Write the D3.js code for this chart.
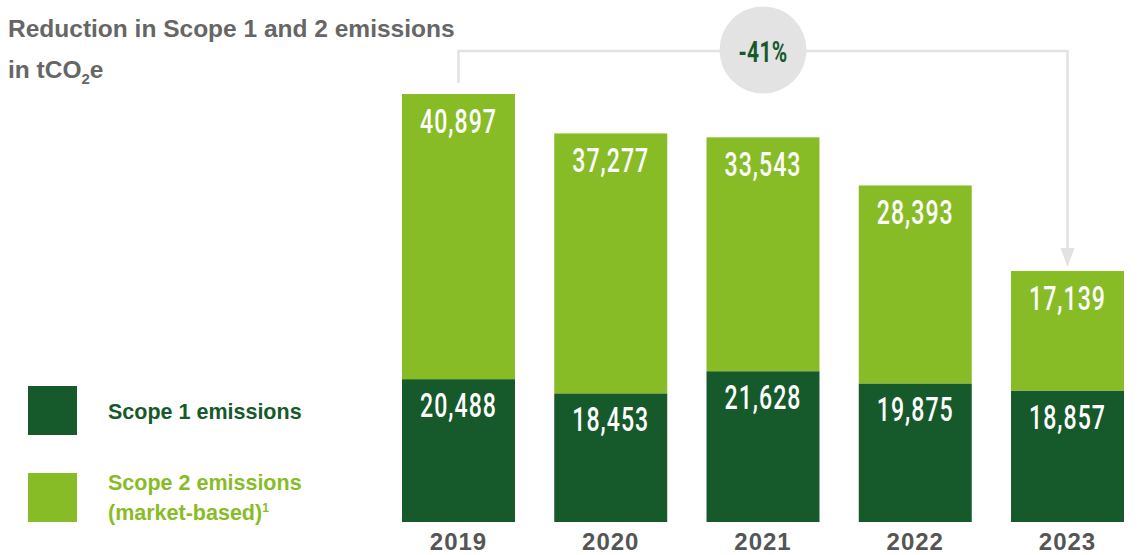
<html>
<head>
<script src="https://d3js.org/d3.v7.min.js"></script>
<style>
  body { margin: 0; background: #fff; font-family: "Liberation Sans", Arial, sans-serif; }
  .title { font-weight: bold; fill: #666; font-size: 24.5px; }
  .val { font-family: Roboto, sans-serif; font-weight: 500; fill: #fff; font-size: 34px; letter-spacing: 1.5px; }
  .year { font-weight: bold; fill: #555; font-size: 24px; letter-spacing: 1px; }
  .legend { font-weight: bold; font-size: 21.5px; }
</style>
</head>
<body>
<svg id="chart" width="1145" height="555"></svg>
<script>
const years = ["2019", "2020", "2021", "2022", "2023"];
const scope1 = [20488, 18453, 21628, 19875, 18857];
const scope2 = [40897, 37277, 33543, 28393, 17139];
const reduction = "-41%";

const darkGreen = "#16592a";
const lightGreen = "#88bc27";
const grey = "#e2e2e2";

const svg = d3.select("#chart");

const data = years.map((y, i) => ({ year: y, s1: scope1[i], s2: scope2[i] }));

const x = d3.scaleBand().domain(years).range([402, 1124]).paddingInner(0.258).paddingOuter(0);
const y = d3.scaleLinear().domain([0, d3.max(data, d => d.s1 + d.s2)]).range([522, 94]);
const fmt = d3.format(",");
const squeeze = 0.68;

// title
svg.append("text").attr("class", "title").attr("x", 8).attr("y", 37).text("Reduction in Scope 1 and 2 emissions");
const t2 = svg.append("text").attr("class", "title").attr("x", 8).attr("y", 78);
t2.append("tspan").text("in tCO");
t2.append("tspan").attr("font-size", "15px").attr("dy", 6).text("2");
t2.append("tspan").attr("dy", -6).text("e");

// bars
const g = svg.append("g");
g.selectAll("rect.s1").data(data).join("rect")
  .attr("class", "s1")
  .attr("x", d => x(d.year)).attr("width", x.bandwidth())
  .attr("y", d => y(d.s1)).attr("height", d => y(0) - y(d.s1))
  .attr("fill", darkGreen);

g.selectAll("rect.s2").data(data).join("rect")
  .attr("class", "s2")
  .attr("x", d => x(d.year)).attr("width", x.bandwidth())
  .attr("y", d => y(d.s1 + d.s2)).attr("height", d => y(d.s1) - y(d.s1 + d.s2))
  .attr("fill", lightGreen);

g.selectAll("text.v1").data(data).join("text")
  .attr("class", "val")
  .attr("transform", d => `translate(${x(d.year) + x.bandwidth() / 2},${y(d.s1) + 38}) scale(${squeeze},1)`)
  .attr("text-anchor", "middle")
  .text(d => fmt(d.s1));

g.selectAll("text.v2").data(data).join("text")
  .attr("class", "val")
  .attr("transform", d => `translate(${x(d.year) + x.bandwidth() / 2},${y(d.s1 + d.s2) + 39}) scale(${squeeze},1)`)
  .attr("text-anchor", "middle")
  .text(d => fmt(d.s2));

g.selectAll("text.year").data(data).join("text")
  .attr("class", "year")
  .attr("x", d => x(d.year) + x.bandwidth() / 2)
  .attr("y", 550)
  .attr("text-anchor", "middle")
  .text(d => d.year);

// bracket with arrow
const xa = x(years[0]) + x.bandwidth() / 2;
const xb = x(years[years.length - 1]) + x.bandwidth() / 2;
const yTop = 51;
const yEnd = y(data[4].s1 + data[4].s2) - 4;
svg.append("path")
  .attr("d", `M${xa},${y(data[0].s1 + data[0].s2) - 11} V${yTop} H${xb} V${yEnd - 16}`)
  .attr("fill", "none").attr("stroke", grey).attr("stroke-width", 2.5);
svg.append("path")
  .attr("d", `M${xb - 7},${yEnd - 19} L${xb + 7},${yEnd - 19} L${xb},${yEnd} Z`)
  .attr("fill", grey);

const cx = x(years[2]) + x.bandwidth() / 2;
svg.append("circle").attr("cx", cx).attr("cy", 50).attr("r", 43.5).attr("fill", "#e3e3e3");
svg.append("text").attr("class", "val")
  .attr("transform", `translate(${cx},62) scale(0.72,1)`)
  .attr("text-anchor", "middle")
  .style("fill", darkGreen).style("font-size", "29px").style("font-weight", "bold").style("letter-spacing", "0.5px")
  .text(reduction);

// legend
const legend = svg.append("g");
legend.append("rect").attr("x", 28).attr("y", 386).attr("width", 49).attr("height", 49).attr("fill", darkGreen);
legend.append("rect").attr("x", 28).attr("y", 473).attr("width", 49).attr("height", 49).attr("fill", lightGreen);
legend.append("text").attr("class", "legend").attr("x", 108).attr("y", 419).attr("fill", darkGreen).text("Scope 1 emissions");
legend.append("text").attr("class", "legend").attr("x", 108).attr("y", 490).attr("fill", lightGreen).text("Scope 2 emissions");
const l3 = legend.append("text").attr("class", "legend").attr("x", 108).attr("y", 520).attr("fill", lightGreen);
l3.append("tspan").text("(market-based)");
l3.append("tspan").attr("font-size", "12px").attr("dy", -8).text("1");
</script>
</body>
</html>
